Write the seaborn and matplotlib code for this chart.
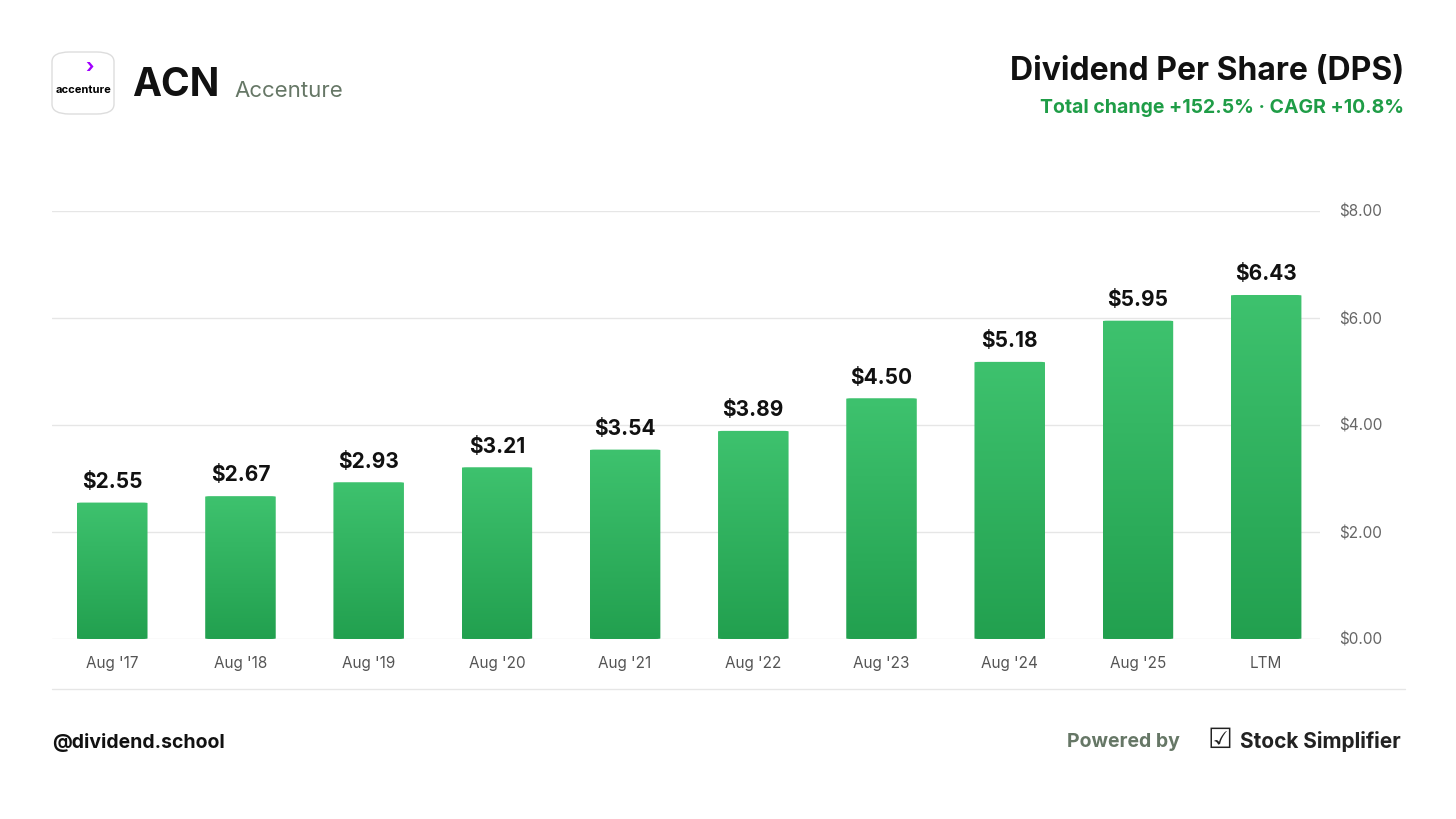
import numpy as np
import pandas as pd
import matplotlib.pyplot as plt
import seaborn as sns
from matplotlib.patches import FancyBboxPatch

periods = ["Aug '17", "Aug '18", "Aug '19", "Aug '20", "Aug '21",
           "Aug '22", "Aug '23", "Aug '24", "Aug '25", "LTM"]
dps = [2.55, 2.67, 2.93, 3.21, 3.54, 3.89, 4.50, 5.18, 5.95, 6.43]
yticks = [0, 2, 4, 6, 8]

sns.set_style("white")
plt.rcParams['font.family'] = ['Inter', 'DejaVu Sans']

W, H = 1456, 819
fig = plt.figure(figsize=(W / 100, H / 100), dpi=100)
ax = fig.add_axes([52 / W, 1 - 639 / H, (1320 - 52) / W, (639 - 211) / H])

df = pd.DataFrame({"period": periods, "dps": dps})
sns.barplot(data=df, x="period", y="dps", ax=ax, width=0.55, color="#2fb05c")

# gradient fill clipped to each bar
grad = np.linspace(0, 1, 256).reshape(-1, 1)
cmap = sns.blend_palette(["#22a04f", "#3ec26e"], as_cmap=True)
for patch in ax.patches:
    x0, y0 = patch.get_x(), patch.get_y()
    w, h = patch.get_width(), patch.get_height()
    patch.set_visible(False)
    rb = FancyBboxPatch((x0, y0), w, h, boxstyle="round,pad=0,rounding_size=0.04",
                        mutation_aspect=0.08 * 8 / 9.9 * 4, transform=ax.transData,
                        facecolor="none", edgecolor="none")
    ax.add_patch(rb)
    im = ax.imshow(grad, extent=[x0, x0 + w, y0, y0 + h], origin="lower",
                   aspect="auto", cmap=cmap, zorder=2)
    im.set_clip_path(rb)
    ax.text(x0 + w / 2, h + 0.2, f"${h:.2f}", ha="center", va="bottom",
            fontsize=15, fontweight="bold", color="#111111", zorder=3)

ax.set_xlim(-0.47, 9.42)
ax.set_ylim(0, 8)
ax.set_yticks(yticks)
ax.set_yticklabels([f"${v:.2f}" for v in yticks], fontsize=11, color="#666666")
ax.yaxis.tick_right()
ax.tick_params(axis="y", length=0, pad=14)
ax.tick_params(axis="x", length=0, pad=12, labelsize=11, labelcolor="#555555")
ax.grid(axis="y", color="#e6e6e6", linewidth=1)
ax.set_axisbelow(True)
ax.set_xlabel("")
ax.set_ylabel("")
for s in ax.spines.values():
    s.set_visible(False)

# separator line
fig.add_artist(plt.Line2D([52 / W, 1405 / W], [1 - 689 / H] * 2, color="#e6e6e6", lw=1))

# header
logo = FancyBboxPatch((52 / W, 1 - 114 / H), 62 / W, 62 / H,
                      boxstyle="round,pad=0,rounding_size=0.012",
                      transform=fig.transFigure, facecolor="white", edgecolor="#dddddd", lw=1)
fig.add_artist(logo)
fig.text(83 / W, 1 - 90 / H, "accenture", ha="center", va="center", fontsize=8,
         fontweight="bold", color="black")
fig.text(89 / W, 1 - 68 / H, "›", ha="center", va="center", fontsize=14,
         fontweight="bold", color="#a100ff")
fig.text(132 / W, 1 - 86 / H, "ACN", fontsize=28, fontweight="bold", color="#111111", va="center")
fig.text(234 / W, 1 - 91 / H, "Accenture", fontsize=16, color="#667766", va="center")
fig.text(1404 / W, 1 - 71 / H, "Dividend Per Share (DPS)", fontsize=23, fontweight="bold",
         color="#111111", ha="right", va="center")
fig.text(1404 / W, 1 - 108 / H, "Total change +152.5% · CAGR +10.8%", fontsize=14,
         fontweight="bold", color="#1f9d47", ha="right", va="center")

# footer
fig.text(52 / W, 1 - 742 / H, "@dividend.school", fontsize=14, fontweight="bold",
         color="#111111", va="center")
fig.text(1180 / W, 1 - 742 / H, "Powered by", fontsize=14, fontweight="bold",
         color="#667766", va="center", ha="right")
fig.text(1208 / W, 1 - 741 / H, "☑", fontsize=20, color="#222222", va="center")
fig.text(1240 / W, 1 - 741 / H, "Stock Simplifier", fontsize=15, fontweight="bold",
         color="#222222", va="center")

fig.savefig("out.png", dpi=100, facecolor="white")
